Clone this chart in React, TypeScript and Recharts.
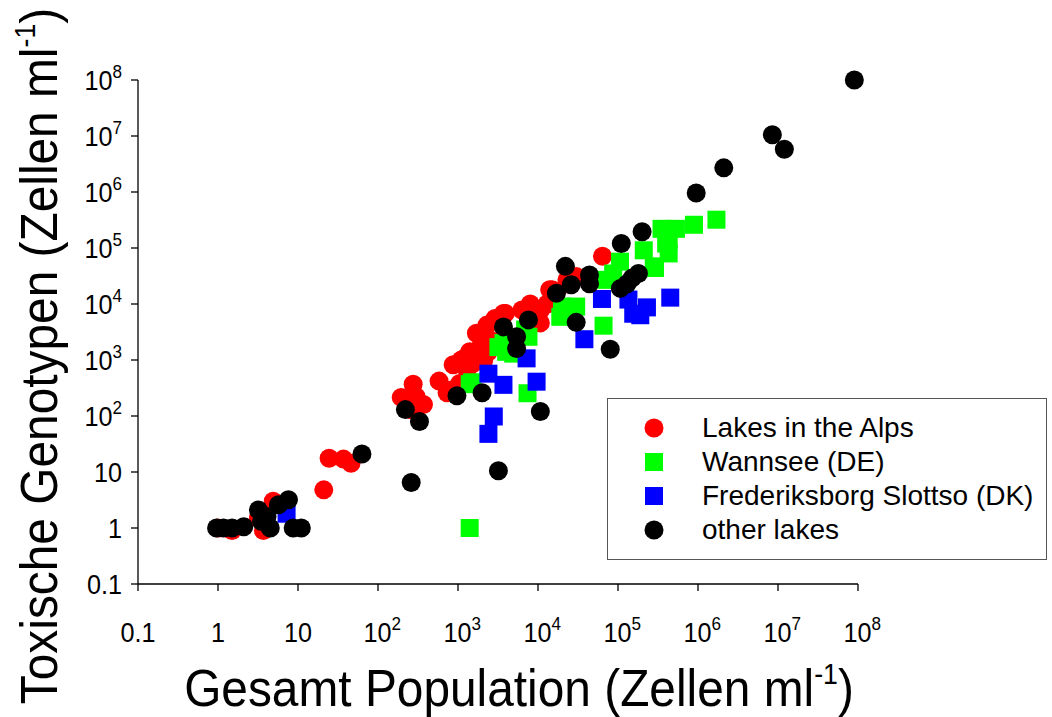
import React from 'react';
import { ScatterChart, Scatter, XAxis, YAxis, Legend } from 'recharts';

const FONT = '"Liberation Sans", Arial, Helvetica, sans-serif';

// Decade ticks shared by both logarithmic axes (cells per ml)
const decadeTicks = [0.1, 1, 10, 1e2, 1e3, 1e4, 1e5, 1e6, 1e7, 1e8];

// Series names and colours
const seriesNames = ['Lakes in the Alps', 'Wannsee (DE)', 'Frederiksborg Slottso (DK)', 'other lakes'];
const seriesColors = ['#ff0000', '#00ff00', '#0000ff', '#000000'];
const seriesShapes = ['circle', 'square', 'square', 'circle'];

// Lakes in the Alps: total population vs. toxic genotypes
const alpsTotal = [1, 1.5, 3.7, 3.2, 4.9, 21, 24.5, 37, 46, 195, 275, 300, 370, 250, 580, 730, 830, 870, 1050, 1100, 1200, 1300, 1400, 1550, 1700, 1900, 2100, 2300, 2400, 2500, 2900, 3700, 3900, 6300, 8000, 8800, 10700, 10700, 13000, 14000, 15000, 23000, 23000, 30000, 64000];
const alpsToxic = [1, 0.9, 0.9, 1.5, 3.0, 4.8, 17.6, 17, 14.3, 215, 370, 220, 160, 130, 420, 260, 290, 820, 380, 1000, 1070, 660, 1400, 870, 3000, 1700, 1000, 4200, 1400, 2300, 5500, 6800, 6800, 7800, 10000, 5900, 4600, 7800, 10000, 18000, 18000, 23000, 27000, 31000, 71000];

// Wannsee (DE)
const wannseeTotal = [1400, 1400, 1500, 3200, 3700, 4000, 4900, 7600, 7400, 6900, 20000, 19000, 20000, 30000, 66000, 72000, 87000, 106000, 210000, 290000, 280000, 430000, 430000, 400000, 350000, 530000, 890000, 1700000];
const wannseeToxic = [1, 370, 400, 1700, 2000, 1400, 1300, 2600, 255, 3500, 6800, 5900, 9000, 9000, 4100, 27000, 35000, 57000, 91000, 44000, 47000, 80000, 140000, 120000, 220000, 220000, 260000, 320000];

// Frederiksborg Slottso (DK)
const dkTotal = [7.2, 2400, 2800, 2400, 3700, 7200, 9600, 38000, 63000, 135000, 155000, 190000, 230000, 450000];
const dkToxic = [1.8, 48, 98, 570, 360, 1070, 410, 2350, 12300, 12000, 6700, 6300, 8700, 13000];

// Other lakes
const otherTotal = [0.96, 1.17, 1.5, 2.1, 3.2, 3.5, 4.1, 4.5, 5.7, 7.6, 8.7, 11, 63, 220, 260, 330, 970, 2000, 3200, 10700, 3700, 5400, 5400, 7600, 30000, 17000, 22000, 26000, 44000, 44000, 80000, 107000, 130000, 150000, 180000, 110000, 200000, 950000, 2100000, 8500000, 12000000, 90000000];
const otherToxic = [1, 1, 1, 1.05, 2.1, 1.3, 1.6, 1, 2.6, 3.2, 1, 1, 21, 130, 6.5, 80, 230, 260, 10.5, 120, 3900, 2600, 1600, 5200, 4700, 15500, 47000, 22000, 33000, 23000, 1550, 19000, 23000, 29000, 35000, 120000, 195000, 960000, 2700000, 10500000, 5800000, 100000000];

const toPoints = (xs: number[], ys: number[]) => xs.map((x, i) => ({ x, y: ys[i] }));

const seriesData = [
  toPoints(alpsTotal, alpsToxic),
  toPoints(wannseeTotal, wannseeToxic),
  toPoints(dkTotal, dkToxic),
  toPoints(otherTotal, otherToxic),
];

const CIRCLE_R = 9.5;
const SQUARE = 18;

const makeShape = (kind: string, color: string) => (props: any) => {
  const { cx, cy } = props;
  if (cx == null || cy == null) return <g />;
  return kind === 'circle' ? (
    <circle cx={cx} cy={cy} r={CIRCLE_R} fill={color} />
  ) : (
    <rect x={cx - SQUARE / 2} y={cy - SQUARE / 2} width={SQUARE} height={SQUARE} fill={color} />
  );
};

const exponentOf = (v: number) => Math.round(Math.log10(v));
const plainLabel = (v: number) => (v < 1 ? '0.1' : String(Math.round(v)));

// Text is set in a slightly condensed face
const NARROW = 0.9;
const TICK_FONT = 28;
const SUP_FONT = 19;

const XTick = (props: any) => {
  const { x, y, payload } = props;
  const v = payload.value as number;
  const e = exponentOf(v);
  const baseY = y + 51;
  return (
    <g transform={`translate(${x}, ${baseY}) scale(${NARROW}, 1)`}>
      {e < 2 ? (
        <text x={0} y={0} textAnchor="middle" fontFamily={FONT} fontSize={TICK_FONT} fill="#000">
          {plainLabel(v)}
        </text>
      ) : (
        <text x={-16} y={0} textAnchor="start" fontFamily={FONT} fontSize={TICK_FONT} fill="#000">
          <tspan>10</tspan>
          <tspan dy={-12} fontSize={SUP_FONT}>{e}</tspan>
        </text>
      )}
    </g>
  );
};

const YTick = (props: any) => {
  const { x, y, payload } = props;
  const v = payload.value as number;
  const e = exponentOf(v);
  return (
    <g transform={`translate(${x - 9}, ${y + 10}) scale(${NARROW}, 1)`}>
      <text x={0} y={0} textAnchor="end" fontFamily={FONT} fontSize={TICK_FONT} fill="#000">
        {e < 2 ? (
          plainLabel(v)
        ) : (
          <>
            <tspan>10</tspan>
            <tspan dy={-12} fontSize={SUP_FONT}>{e}</tspan>
          </>
        )}
      </text>
    </g>
  );
};

const TITLE_FONT = 52;
const TITLE_NARROW = 0.92;

const XTitle = () => (
  <g transform={`translate(519, 706) scale(${TITLE_NARROW}, 1)`}>
    <text x={0} y={0} textAnchor="middle" fontFamily={FONT} fontSize={TITLE_FONT} fill="#000">
      <tspan>Gesamt Population (Zellen ml</tspan>
      <tspan dy={-22} fontSize={29}>-1</tspan>
      <tspan dy={22}>)</tspan>
    </text>
  </g>
);

const YTitle = () => (
  <g transform={`translate(57, 356) rotate(-90) scale(${TITLE_NARROW}, 1)`}>
    <text x={0} y={0} textAnchor="middle" fontFamily={FONT} fontSize={TITLE_FONT} fill="#000">
      <tspan>Toxische Genotypen (Zellen ml</tspan>
      <tspan dy={-22} fontSize={29}>-1</tspan>
      <tspan dy={22}>)</tspan>
    </text>
  </g>
);

const LegendBox = () => (
  <div
    style={{
      position: 'relative',
      width: 440,
      height: 162,
      boxSizing: 'border-box',
      border: '1.5px solid #555',
      background: '#fff',
      fontFamily: FONT,
      fontSize: 28,
      color: '#000',
    }}
  >
    {seriesNames.map((name, i) => {
      const cy = 29 + i * 34;
      return (
        <React.Fragment key={name}>
          <svg
            width={22}
            height={22}
            style={{ position: 'absolute', left: 35, top: cy - 11, overflow: 'visible' }}
          >
            {seriesShapes[i] === 'circle' ? (
              <circle cx={11} cy={11} r={CIRCLE_R} fill={seriesColors[i]} />
            ) : (
              <rect x={2} y={2} width={SQUARE} height={SQUARE} fill={seriesColors[i]} />
            )}
          </svg>
          <div
            style={{
              position: 'absolute',
              left: 94,
              top: cy - 17,
              height: 34,
              lineHeight: '34px',
              whiteSpace: 'nowrap',
            }}
          >
            {name}
          </div>
        </React.Fragment>
      );
    })}
  </div>
);

export default function App() {
  return (
    <div style={{ position: 'absolute', left: 0, top: 0, width: 1052, height: 717, background: '#fff' }}>
      <ScatterChart
        width={1052}
        height={717}
        margin={{ top: 80, right: 194, bottom: 53, left: 38 }}
      >
        <XAxis
          type="number"
          dataKey="x"
          scale="log"
          domain={[0.1, 1e8]}
          ticks={decadeTicks}
          interval={0}
          height={80}
          tickSize={7}
          tickMargin={0}
          axisLine={{ stroke: '#000', strokeWidth: 1.3 }}
          tickLine={{ stroke: '#000', strokeWidth: 1.3 }}
          tick={<XTick />}
          label={<XTitle />}
        />
        <YAxis
          type="number"
          dataKey="y"
          scale="log"
          domain={[0.1, 1e8]}
          ticks={decadeTicks}
          interval={0}
          width={100}
          tickSize={7}
          tickMargin={0}
          axisLine={{ stroke: '#000', strokeWidth: 1.3 }}
          tickLine={{ stroke: '#000', strokeWidth: 1.3 }}
          tick={<YTick />}
          label={<YTitle />}
        />
        {seriesData.map((data, i) => (
          <Scatter
            key={seriesNames[i]}
            name={seriesNames[i]}
            data={data}
            fill={seriesColors[i]}
            isAnimationActive={false}
            shape={makeShape(seriesShapes[i], seriesColors[i])}
          />
        ))}
        <Legend
          layout="horizontal"
          verticalAlign="middle"
          align="center"
          wrapperStyle={{ left: 607, top: 398, width: 440, height: 162 }}
          content={<LegendBox />}
        />
      </ScatterChart>
    </div>
  );
}
